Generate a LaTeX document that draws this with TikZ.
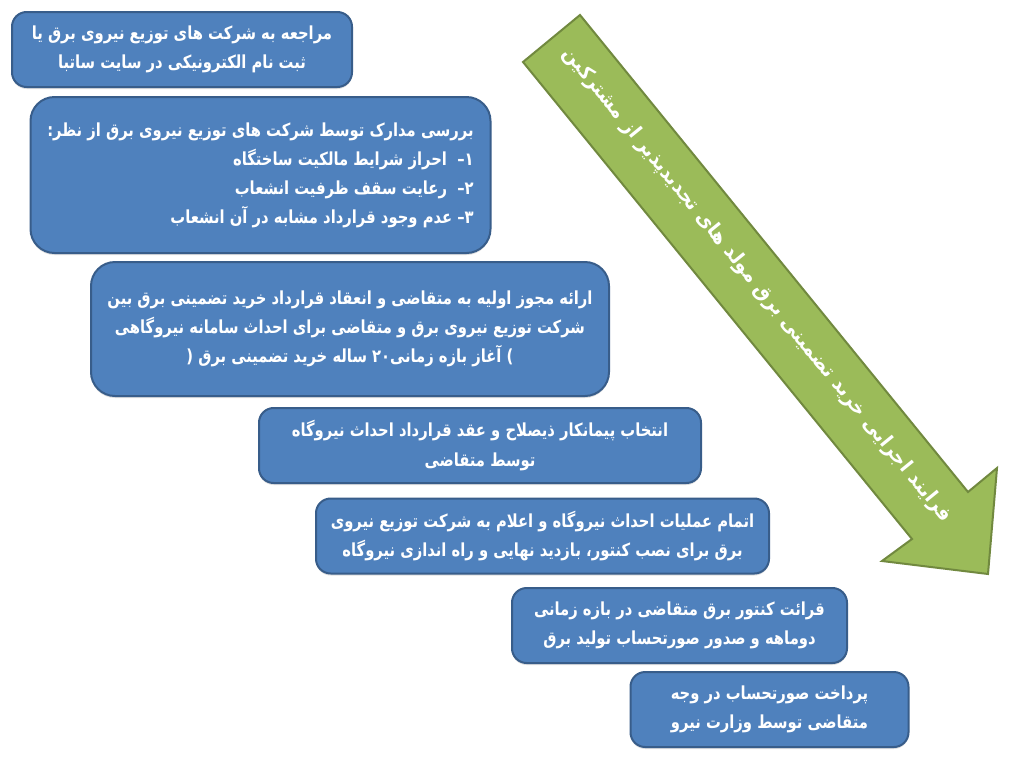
\documentclass[tikz,border=0pt]{standalone}
\usepackage{fontspec}
\usetikzlibrary{shadows}
\newfontfamily\fa[Script=Arabic,FakeStretch=0.82]{DejaVu Sans}
\newfontfamily\faw[Script=Arabic,FakeStretch=0.95]{DejaVu Sans}
\TeXXeTstate=1
\newcommand{\rl}[1]{\beginR #1\endR}
\definecolor{boxfill}{HTML}{4F81BD}
\definecolor{boxborder}{HTML}{385D8A}
\definecolor{arrfill}{HTML}{9BBB59}
\definecolor{arrborder}{HTML}{71893F}
\begin{document}
\begin{tikzpicture}[x=0.75pt,y=-0.75pt,
  stepbox/.style={draw=boxborder, line width=1.5pt, fill=boxfill, rounded corners=11pt,
    drop shadow={shadow xshift=0pt, shadow yshift=-1.5pt, opacity=0.25},
    text=white, font=\fa\bfseries\fontsize{13.5}{21.75}\selectfont, inner sep=0pt, align=center},
  bigbox/.style={stepbox, rounded corners=18pt},
  arrowtext/.style={text=white, font=\faw\bfseries\fontsize{15}{21}\selectfont, inner sep=0pt}
]
\useasboundingbox (0,0) rectangle (1024,772);
\fill[white] (0,0) rectangle (1024,772);

% big green arrow
\filldraw[fill=arrfill, draw=arrborder, line width=1.5pt, line join=miter]
  (580,15) -- (968,492) -- (997,468) -- (988,574) -- (882,561) -- (912,539) -- (523,62) -- cycle;
\node[arrowtext, rotate=-50.9] (title) at (757,285)
  {\rl{فرایند اجرایی خرید تضمینی برق مولد های تجدیدپذیر از مشترکین}};

\node[stepbox, minimum width=340*0.75pt, minimum height=75*0.75pt] (b1) at (182,49.5)
  {\rl{مراجعه به شرکت های توزیع نیروی برق یا}\\ \rl{ثبت نام الکترونیکی در سایت ساتبا}};

\node[bigbox, minimum width=460*0.75pt, minimum height=156*0.75pt, align=right] (b2) at (260.5,175)
  {\rl{بررسی مدارک توسط شرکت های توزیع نیروی برق از نظر\kern0pt:}\\
   \rl{۱\kern0pt–\ \ احراز شرایط مالکیت ساختگاه}\\
   \rl{۲\kern0pt–\ \ رعایت سقف ظرفیت انشعاب}\\
   \rl{۳\kern0pt– عدم وجود قرارداد مشابه در آن انشعاب}};

\node[bigbox, minimum width=518*0.75pt, minimum height=134*0.75pt] (b3) at (350,329)
  {\rl{ارائه مجوز اولیه به متقاضی و انعقاد قرارداد خرید تضمینی برق بین}\\
   \rl{شرکت توزیع نیروی برق و متقاضی برای احداث سامانه نیروگاهی}\\
   \rl{) آغاز بازه زمانی\kern0pt۲۰ ساله خرید تضمینی برق (}};

\node[stepbox, minimum width=442*0.75pt, minimum height=75*0.75pt] (b4) at (480,445.5)
  {\rl{انتخاب پیمانکار ذیصلاح و عقد قرارداد احداث نیروگاه}\\ \rl{توسط متقاضی}};

\node[stepbox, minimum width=453*0.75pt, minimum height=75*0.75pt] (b5) at (542.5,536)
  {\rl{اتمام عملیات احداث نیروگاه و اعلام به شرکت توزیع نیروی}\\ \rl{برق برای نصب کنتور\kern0pt، بازدید نهایی و راه اندازی نیروگاه}};

\node[stepbox, minimum width=335*0.75pt, minimum height=75*0.75pt] (b6) at (679.5,625.5)
  {\rl{قرائت کنتور برق متقاضی در بازه زمانی}\\ \rl{دوماهه و صدور صورتحساب تولید برق}};

\node[stepbox, minimum width=278*0.75pt, minimum height=75*0.75pt] (b7) at (769.5,709.5)
  {\rl{پرداخت صورتحساب در وجه}\\ \rl{متقاضی توسط وزارت نیرو}};
\end{tikzpicture}
\end{document}
